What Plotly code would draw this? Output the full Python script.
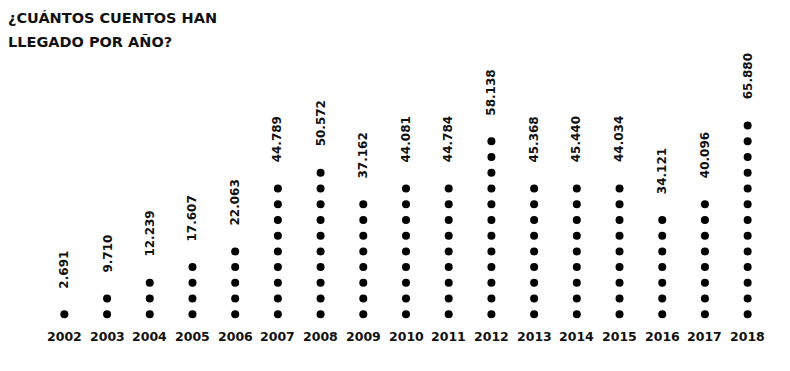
import plotly.graph_objects as go

years = ["2002", "2003", "2004", "2005", "2006", "2007", "2008", "2009", "2010",
         "2011", "2012", "2013", "2014", "2015", "2016", "2017", "2018"]
values = [2691, 9710, 12239, 17607, 22063, 44789, 50572, 37162, 44081,
          44784, 58138, 45368, 45440, 44034, 34121, 40096, 65880]
value_labels = ["2.691", "9.710", "12.239", "17.607", "22.063", "44.789", "50.572",
                "37.162", "44.081", "44.784", "58.138", "45.368", "45.440",
                "44.034", "34.121", "40.096", "65.880"]
dots = [1, 2, 3, 4, 5, 9, 10, 8, 9, 9, 12, 9, 9, 9, 7, 8, 13]
title_lines = ["¿CUÁNTOS CUENTOS HAN", "LLEGADO POR AÑO?"]

FONT = "DejaVu Sans"
W, H = 790, 371
L, R, T, B = 43, 21, 102, 41
PW, PH = W - L - R, H - T - B


def px_x(p):
    return (p - L) / PW


def px_y(p):
    return (H - B - p) / PH


xs, ys = [], []
for i, n in enumerate(dots):
    for k in range(n):
        xs.append(i)
        ys.append(k)

fig = go.Figure()
fig.add_trace(go.Scatter(
    x=xs, y=ys, mode="markers",
    marker=dict(size=8, color="#000000"),
    hoverinfo="skip", showlegend=False,
))

annotations = []
for i, (lab, n) in enumerate(zip(value_labels, dots)):
    annotations.append(dict(
        x=i, y=n - 1, xref="x", yref="y", text="<b>%s</b>" % lab,
        textangle=-90, showarrow=False, yanchor="bottom", xanchor="center",
        yshift=24, font=dict(family=FONT, size=12, color="#111111"),
    ))
for i, yr in enumerate(years):
    annotations.append(dict(
        x=i, y=px_y(336), xref="x", yref="paper", text="<b>%s</b>" % yr,
        showarrow=False, yanchor="middle", xanchor="center",
        font=dict(family=FONT, size=12.5, color="#111111"),
    ))
for j, line in enumerate(title_lines):
    annotations.append(dict(
        x=px_x(6), y=px_y(18 + 24 * j), xref="paper", yref="paper",
        text="<b>%s</b>" % line, showarrow=False,
        xanchor="left", yanchor="middle",
        font=dict(family=FONT, size=14.5, color="#111111"),
    ))

fig.update_layout(
    width=W, height=H,
    margin=dict(l=L, r=R, t=T, b=B, pad=0, autoexpand=False),
    paper_bgcolor="white", plot_bgcolor="white",
    xaxis=dict(range=[-0.5, 16.5], visible=False, fixedrange=True),
    yaxis=dict(range=[-1.0, 13.5], visible=False, fixedrange=True),
    annotations=annotations,
)

fig.write_html("out.html", config={"displayModeBar": False},
               post_script="document.body.style.margin='0';")
